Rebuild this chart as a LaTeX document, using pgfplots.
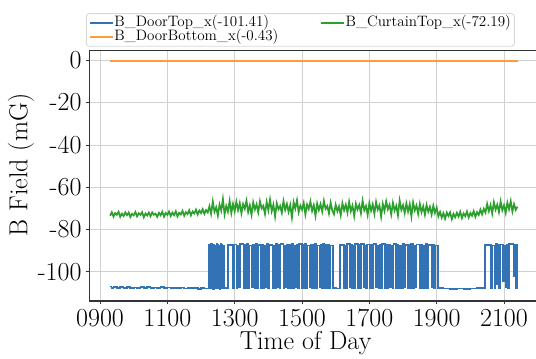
\documentclass[border=0pt]{standalone}
\usepackage{pgfplots}
\pgfplotsset{compat=1.18}
\definecolor{cblue}{RGB}{50,114,181}
\definecolor{corange}{RGB}{255,155,60}
\definecolor{cgreen}{RGB}{44,160,44}
\begin{document}
\begin{tikzpicture}
\useasboundingbox (-67pt,-42.75pt) rectangle (335pt,225.75pt);
\clip (-67pt,-42.75pt) rectangle (335pt,225.75pt);
\begin{pgfinterruptboundingbox}
\begin{axis}[
  scale only axis,
  width=345pt, height=188.25pt,
  xmin=8.682, xmax=22.347, ymin=-113.8, ymax=4.87,
  axis x line*=bottom, axis y line*=left,
  xtick={9,11,13,15,17,19,21},
  xticklabels={0900,1100,1300,1500,1700,1900,2100},
  ytick={0,-20,-40,-60,-80,-100},
  yticklabels={0,-20,-40,-60,-80,-100},
  tick align=outside, major tick length=2.6pt,
  tick style={black!80, line width=0.6pt},
  grid=major,
  major grid style={line width=0.6pt, color=black!18},
  axis line style={black!80, line width=0.9pt, -},
  ticklabel style={font=\fontsize{19.5}{21}\selectfont, inner sep=0pt},
  xticklabel style={anchor=north, yshift=-3.4pt},
  yticklabel style={anchor=east, xshift=-3.1pt},
  xlabel={Time of Day},
  ylabel={B Field (mG)},
  label style={font=\fontsize{19.5}{21}\selectfont},
  xlabel style={at={(axis description cs:0.4701,-0.1952)}, anchor=base, inner sep=0pt},
  ylabel style={at={(axis description cs:-0.149,0.542)}, anchor=center, inner sep=0pt},
  legend columns=2,
  legend style={at={(axis description cs:-0.00725,1.1465)}, anchor=north west,
    draw=black!15, fill=white, rounded corners=2pt, line width=0.7pt,
    font=\fontsize{11.3}{12.5}\selectfont, inner xsep=2pt, inner ysep=1.4pt,
    nodes={inner sep=0.5pt, text height=7.4pt, text depth=2.4pt},
    /tikz/every even column/.append style={column sep=31pt}},
  legend cell align=left,
]
\draw[black!80, line width=0.9pt] (rel axis cs:0,1) -- (rel axis cs:1,1);
\addplot[cblue, line width=1.3pt, const plot, legend image post style={sharp plot}] coordinates {
(9.30,-107.0)(9.34,-107.6)(9.40,-107.2)(9.50,-107.5)(9.60,-107.3)(9.70,-107.6)(9.80,-107.2)(9.90,-107.5)(10.00,-107.4)(10.10,-107.7)
(10.20,-107.3)(10.30,-107.5)(10.40,-107.2)(10.50,-107.6)(10.60,-107.4)(10.70,-107.7)(10.80,-107.3)(10.90,-107.6)(11.00,-107.4)(11.10,-107.8)
(11.20,-107.5)(11.30,-107.7)(11.40,-107.4)(11.50,-107.9)(11.60,-107.6)(11.70,-107.8)(11.80,-107.5)(11.90,-108.0)(12.00,-107.7)(12.10,-107.9)
(12.22,-87.2)(12.24,-107.6)(12.26,-87.5)(12.28,-107.9)(12.30,-86.8)(12.32,-107.5)(12.34,-87.4)(12.36,-108.0)(12.38,-87.1)(12.40,-107.7)
(12.42,-87.6)(12.44,-107.4)(12.46,-86.9)(12.48,-107.8)(12.50,-87.3)(12.52,-107.6)(12.54,-87.5)(12.56,-108.1)(12.58,-87.0)(12.60,-107.5)
(12.62,-87.4)(12.64,-107.9)(12.66,-87.6)(12.68,-107.7)
(12.81,-87.3)(12.95,-107.6)(12.98,-87.1)(13.05,-107.8)(13.08,-87.5)(13.12,-107.4)(13.15,-86.9)(13.26,-107.7)(13.29,-87.4)(13.33,-107.5)
(13.36,-87.0)(13.40,-107.9)(13.43,-87.6)(13.52,-107.3)(13.55,-87.2)(13.60,-107.8)(13.63,-86.8)(13.66,-107.5)(13.69,-87.4)(13.78,-107.6)
(13.81,-87.1)(13.85,-107.9)(13.88,-87.5)(13.93,-107.4)(13.96,-86.9)(14.00,-107.7)(14.03,-87.3)(14.12,-107.5)(14.15,-87.6)(14.19,-107.8)
(14.22,-87.0)(14.26,-107.4)(14.29,-87.4)(14.33,-107.9)(14.36,-86.8)(14.45,-107.6)(14.48,-87.5)(14.52,-107.3)(14.55,-87.1)(14.58,-107.8)
(14.61,-87.3)(14.68,-107.5)(14.71,-86.9)(14.74,-107.7)(14.77,-87.6)(14.82,-107.4)(14.85,-87.2)(14.89,-107.9)(14.92,-87.0)(15.00,-107.6)
(15.03,-87.4)(15.06,-107.5)(15.09,-86.8)(15.13,-107.8)(15.16,-87.5)(15.22,-107.3)(15.25,-87.1)(15.28,-107.7)(15.31,-87.3)(15.36,-107.5)
(15.39,-86.9)(15.43,-107.9)(15.46,-87.6)(15.52,-107.4)(15.55,-87.2)(15.58,-107.6)(15.61,-87.0)(15.66,-107.8)(15.69,-87.4)(15.74,-107.5)
(15.77,-87.1)(15.82,-107.7)(15.85,-87.5)(15.92,-107.6)(16.02,-107.9)
(16.13,-87.2)(16.24,-107.5)(16.27,-87.5)(16.31,-107.8)(16.34,-86.9)(16.42,-107.4)(16.45,-87.3)(16.49,-107.7)(16.52,-87.6)(16.55,-107.5)
(16.58,-87.0)(16.66,-107.9)(16.69,-87.4)(16.73,-107.6)(16.76,-86.8)(16.84,-107.4)(16.87,-87.5)(16.90,-107.8)(16.93,-87.1)(17.02,-107.5)
(17.05,-87.3)(17.09,-107.7)(17.12,-86.9)(17.20,-107.4)(17.23,-87.6)(17.27,-107.9)(17.30,-87.2)(17.34,-107.6)(17.37,-87.0)(17.46,-107.5)
(17.49,-87.4)(17.53,-107.8)(17.56,-87.1)(17.62,-107.4)(17.65,-87.5)(17.69,-107.7)(17.72,-86.8)(17.80,-107.5)(17.83,-87.3)(17.87,-107.9)
(17.90,-87.6)(17.96,-107.6)(17.99,-87.0)(18.03,-107.4)(18.06,-87.4)(18.14,-107.8)(18.17,-87.2)(18.21,-107.5)(18.24,-86.9)(18.30,-107.7)
(18.33,-87.5)(18.37,-107.4)(18.40,-87.1)(18.50,-107.9)(18.53,-87.3)(18.57,-107.6)(18.60,-87.6)(18.66,-107.5)(18.69,-87.0)(18.72,-107.8)
(18.76,-87.4)(18.86,-107.4)(18.89,-87.2)(18.93,-107.7)(18.96,-87.5)(19.04,-107.6)
(19.20,-107.9)(19.40,-108.1)(19.60,-107.9)(19.80,-108.2)(20.00,-107.9)(20.20,-107.6)
(20.44,-87.2)(20.62,-107.5)(20.65,-87.5)(20.72,-107.8)(20.75,-87.0)(20.80,-106.0)(20.83,-87.4)(20.86,-107.6)(20.89,-87.1)(20.98,-104.5)
(21.01,-87.6)(21.05,-107.4)(21.08,-87.3)(21.12,-107.7)(21.15,-86.9)(21.28,-102.0)(21.31,-87.4)(21.36,-107.5)(21.38,-87.2)(21.40,-101.2)(21.41,-101.2)
};
\addlegendentry{B\_DoorTop\_x(-101.41)}
\addplot[cgreen, line width=1.3pt] coordinates {
(9.30,-73.5)(9.35,-71.8)(9.40,-73.9)(9.45,-72.2)(9.50,-73.0)(9.55,-71.6)(9.60,-74.0)(9.65,-72.5)(9.70,-73.6)(9.75,-71.9)
(9.80,-73.2)(9.85,-72.0)(9.90,-74.1)(9.95,-72.6)(10.00,-73.3)(10.05,-71.7)(10.10,-73.8)(10.15,-72.3)(10.20,-73.1)(10.25,-71.8)
(10.30,-74.2)(10.35,-72.4)(10.40,-73.4)(10.45,-72.0)(10.50,-73.7)(10.55,-71.9)(10.60,-73.0)(10.65,-72.5)(10.70,-74.0)(10.75,-72.1)
(10.80,-73.3)(10.85,-71.6)(10.90,-73.9)(10.95,-72.2)(11.00,-73.1)
(11.05,-71.5)(11.10,-73.6)(11.15,-72.0)(11.20,-73.2)(11.25,-71.4)(11.30,-73.8)(11.35,-72.1)(11.40,-72.9)(11.45,-71.2)(11.50,-73.5)
(11.55,-71.8)(11.60,-72.7)(11.65,-70.9)(11.70,-73.3)(11.75,-71.5)(11.80,-72.4)(11.85,-70.6)(11.90,-72.9)(11.95,-71.0)(12.00,-72.2)
(12.05,-70.4)(12.10,-72.6)(12.15,-70.8)
(12.20,-71.9)(12.25,-69.0)(12.30,-72.5)(12.35,-66.8)(12.40,-71.6)(12.45,-69.5)(12.50,-73.4)(12.55,-68.2)(12.60,-71.0)(12.65,-65.6)
(12.70,-72.8)(12.75,-68.9)(12.80,-71.5)(12.85,-66.5)(12.90,-72.2)(12.95,-67.9)
(13.00,-71.4)(13.05,-66.9)(13.10,-70.8)(13.15,-67.5)(13.20,-72.3)(13.25,-68.0)(13.30,-70.2)(13.35,-66.4)(13.40,-71.7)(13.45,-68.6)
(13.50,-73.0)(13.55,-67.2)(13.60,-70.5)(13.65,-68.1)(13.70,-71.9)(13.75,-66.7)(13.80,-70.0)(13.85,-68.8)(13.90,-72.6)(13.95,-67.0)
(14.00,-70.9)(14.05,-65.9)(14.10,-71.3)(14.15,-68.3)(14.20,-73.8)(14.25,-67.6)(14.30,-70.4)(14.35,-68.9)(14.40,-72.1)(14.45,-66.6)
(14.50,-70.7)(14.55,-67.9)(14.60,-71.6)(14.65,-68.4)(14.70,-74.3)(14.75,-67.1)(14.80,-70.1)(14.85,-66.2)(14.90,-71.8)(14.95,-68.7)
(15.00,-70.6)(15.05,-67.4)(15.10,-72.9)(15.15,-68.2)(15.20,-70.3)(15.25,-66.8)(15.30,-71.2)(15.35,-68.5)(15.40,-73.5)(15.45,-67.7)
(15.50,-70.8)(15.55,-68.0)(15.60,-71.5)(15.65,-66.5)(15.70,-70.2)(15.75,-68.9)(15.80,-72.4)(15.85,-67.3)(15.90,-71.0)
(15.95,-72.7)(16.00,-68.3)(16.05,-71.4)(16.10,-69.1)(16.15,-73.2)(16.20,-67.6)(16.25,-70.9)(16.30,-68.2)(16.35,-72.0)(16.40,-66.9)
(16.45,-71.3)(16.50,-68.7)(16.55,-73.6)(16.60,-67.8)(16.65,-70.5)(16.70,-68.4)(16.75,-72.3)(16.80,-66.4)(16.85,-70.9)(16.90,-68.9)
(16.95,-73.1)(17.00,-67.5)(17.05,-71.1)(17.10,-68.1)(17.15,-72.5)(17.20,-67.0)(17.25,-70.6)(17.30,-68.6)(17.35,-73.9)(17.40,-67.9)
(17.45,-71.2)(17.50,-66.7)(17.55,-70.4)(17.60,-68.3)(17.65,-72.8)(17.70,-67.4)(17.75,-71.0)(17.80,-68.8)(17.85,-73.3)(17.90,-66.3)
(17.95,-70.7)(18.00,-68.5)(18.05,-72.2)(18.10,-67.7)(18.15,-71.5)(18.20,-68.0)(18.25,-73.7)(18.30,-67.2)(18.35,-70.9)(18.40,-68.6)
(18.45,-72.6)(18.50,-67.9)(18.55,-71.8)(18.60,-69.0)(18.65,-73.0)(18.70,-68.4)(18.75,-71.6)(18.80,-69.3)(18.85,-72.9)(18.90,-68.8)
(18.95,-72.1)(19.00,-69.6)
(19.05,-73.8)(19.10,-71.7)(19.15,-74.4)(19.20,-72.3)(19.25,-74.9)(19.30,-72.0)(19.35,-73.6)(19.40,-71.9)(19.45,-75.1)(19.50,-72.6)
(19.55,-74.2)(19.60,-72.1)(19.65,-73.9)(19.70,-71.6)(19.75,-74.6)(19.80,-72.4)(19.85,-73.7)(19.90,-71.5)(19.95,-74.3)(20.00,-72.2)
(20.05,-73.5)(20.10,-71.3)(20.15,-74.0)(20.20,-71.8)(20.25,-73.1)(20.30,-70.6)(20.35,-72.8)(20.40,-70.2)
(20.45,-72.0)(20.50,-67.9)(20.55,-71.3)(20.60,-68.5)(20.65,-72.4)(20.70,-67.1)(20.75,-70.6)(20.80,-68.2)(20.85,-71.8)(20.90,-66.8)
(20.95,-70.9)(21.00,-68.6)(21.05,-72.1)(21.10,-67.3)(21.15,-70.4)(21.20,-66.6)(21.25,-71.5)(21.30,-68.0)(21.35,-70.7)(21.40,-69.2)
};
\addlegendentry{B\_CurtainTop\_x(-72.19)\hspace{16pt}}
\addplot[corange, line width=1.3pt] coordinates {
(9.30,-0.43)(12.00,-0.43)(15.00,-0.43)(18.00,-0.43)(21.41,-0.43)
};
\addlegendentry{B\_DoorBottom\_x(-0.43)}
\end{axis}
\end{pgfinterruptboundingbox}
\end{tikzpicture}
\end{document}
